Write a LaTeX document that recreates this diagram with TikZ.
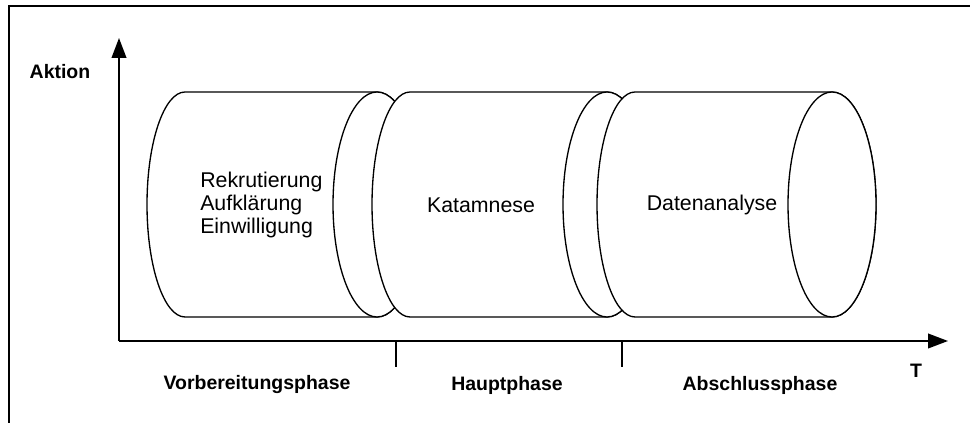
\documentclass[tikz,border=0pt]{standalone}
\usepackage{fontspec}
\setmainfont{Liberation Sans}
\usetikzlibrary{arrows.meta}
\newcommand\drawcyl[2]{%
  \filldraw[cyl] (#1,331) -- (#2,331)
    arc[start angle=90,end angle=-90,x radius=44,y radius=112.5]
    -- (#1,106)
    arc[start angle=270,end angle=90,x radius=38,y radius=112.5] -- cycle;
  \draw[cyl] (#2,218.5) ellipse[x radius=44,y radius=112.5];}
\begin{document}
\begin{tikzpicture}[x=0.75pt,y=0.75pt,
  cyl/.style={draw=black,line width=1.0pt,fill=white},
  ax/.style={line width=1.4pt,-{Triangle[length=15pt,width=11pt]}},
  tick/.style={line width=1.3pt},
  lbl/.style={font=\fontsize{14.6}{16}\selectfont\bfseries,inner sep=0pt},
  txt/.style={font=\fontsize{16}{17.25}\selectfont,align=left,inner sep=0pt}]
\useasboundingbox (0,0) rectangle (970,423);
\draw[line width=1.3pt] (9,0) -- (9,417) -- (970,417);

% cylinders
\drawcyl{185}{377}
\drawcyl{410}{607}
\drawcyl{635}{832}

% texts in cylinders
\node[txt,anchor=west] (t1) at (200,218) {Rekrutierung\\Aufklärung\\Einwilligung};
\node[txt] (t2) at (481,218) {Katamnese};
\node[txt] (t3) at (712,218) {Datenanalyse};

% axes
\coordinate (o) at (119,82);
\coordinate (ytip) at (119,385);
\coordinate (xtip) at (948,82);
\draw[ax] (o) -- (ytip);
\draw[ax] (o) -- (xtip);

% ticks
\coordinate (k1a) at (396,82);
\coordinate (k1b) at (396,56);
\coordinate (k2a) at (622,82);
\coordinate (k2b) at (622,56);
\draw[tick] (k1a) -- (k1b);
\draw[tick] (k2a) -- (k2b);

% labels
\node[lbl] (aktion) at (60,351) {Aktion};
\node[lbl] (T) at (916,52) {T};
\node[lbl] (p1) at (257,38) {Vorbereitungsphase};
\node[lbl] (p2) at (507,38) {Hauptphase};
\node[lbl] (p3) at (760,38) {Abschlussphase};
\end{tikzpicture}
\end{document}
